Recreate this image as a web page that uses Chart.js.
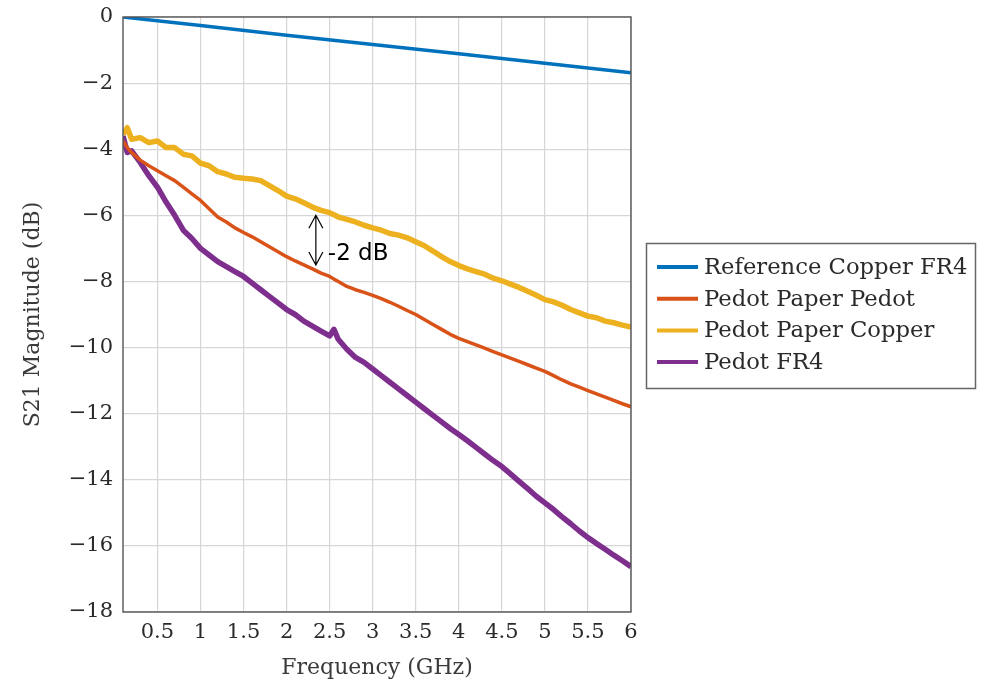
<!DOCTYPE html>
<html>
<head>
<meta charset="utf-8">
<script src="https://cdn.jsdelivr.net/npm/chart.js@4.4.1/dist/chart.umd.min.js"></script>
<style>
  html, body { margin: 0; padding: 0; background: white; }
  #wrap { width: 984px; height: 686px; }
</style>
</head>
<body>
<div id="wrap"><canvas id="myChart" width="984" height="686"></canvas></div>
<script>
// Series labels and colours
const seriesLabels = ["Reference Copper FR4", "Pedot Paper Pedot", "Pedot Paper Copper", "Pedot FR4"];
const seriesColors = ["#0072BD", "#D95319", "#EDB120", "#7E2F8E"];

// Reference copper is a straight line
const refFreq = [0.1, 1, 2, 3, 4, 5, 6];
const refDb = [0.0, -0.26, -0.55, -0.83, -1.11, -1.40, -1.69];

// Frequency (GHz) for the measured pedot curves
const freq = [0.1, 0.15, 0.2, 0.3, 0.4, 0.5, 0.6, 0.7, 0.8, 0.9, 1.0, 1.1, 1.2, 1.3, 1.4, 1.5, 1.6, 1.7, 1.8, 1.9,
  2.0, 2.1, 2.2, 2.3, 2.4, 2.5, 2.55, 2.6, 2.7, 2.8, 2.9, 3.0, 3.1, 3.2, 3.3, 3.4, 3.5, 3.6, 3.7, 3.8, 3.9,
  4.0, 4.1, 4.2, 4.3, 4.4, 4.5, 4.6, 4.7, 4.8, 4.9, 5.0, 5.1, 5.2, 5.3, 5.4, 5.5, 5.6, 5.7, 5.8, 5.9, 6.0];

const paperPedotDb = [-3.75, -3.95, -4.1, -4.33, -4.5, -4.65, -4.8, -4.95, -5.15, -5.35, -5.55, -5.8, -6.05, -6.2, -6.38, -6.52, -6.65, -6.8, -6.95, -7.1,
  -7.25, -7.38, -7.5, -7.62, -7.75, -7.85, -7.93, -8.0, -8.15, -8.25, -8.33, -8.42, -8.52, -8.63, -8.75, -8.88, -9.0, -9.15, -9.3, -9.45, -9.6,
  -9.72, -9.82, -9.92, -10.02, -10.12, -10.22, -10.32, -10.42, -10.52, -10.62, -10.72, -10.85, -10.98, -11.1, -11.2, -11.3, -11.4, -11.5, -11.6, -11.7, -11.79];

const paperCopperDb = [-3.55, -3.35, -3.7, -3.65, -3.8, -3.75, -3.95, -3.95, -4.15, -4.2, -4.42, -4.5, -4.68, -4.75, -4.85, -4.88, -4.9, -4.95, -5.1, -5.25,
  -5.42, -5.5, -5.62, -5.75, -5.85, -5.92, -5.98, -6.05, -6.12, -6.2, -6.3, -6.38, -6.45, -6.55, -6.6, -6.68, -6.8, -6.92, -7.08, -7.25, -7.4,
  -7.52, -7.62, -7.7, -7.78, -7.9, -7.98, -8.08, -8.18, -8.3, -8.42, -8.55, -8.62, -8.72, -8.85, -8.95, -9.05, -9.1, -9.2, -9.25, -9.32, -9.38];

const pedotFr4Db = [-3.6, -4.1, -4.05, -4.4, -4.8, -5.15, -5.6, -6.0, -6.45, -6.7, -7.0, -7.2, -7.4, -7.55, -7.7, -7.85, -8.05, -8.25, -8.45, -8.65,
  -8.85, -9.0, -9.2, -9.35, -9.5, -9.65, -9.45, -9.75, -10.05, -10.3, -10.45, -10.65, -10.85, -11.05, -11.25, -11.45, -11.65, -11.85, -12.05, -12.25, -12.45,
  -12.63, -12.82, -13.02, -13.22, -13.42, -13.6, -13.82, -14.05, -14.27, -14.5, -14.7, -14.9, -15.12, -15.33, -15.55, -15.75, -15.93, -16.1, -16.28, -16.45, -16.63];

// Axis ticks
const xTicks = [0.5, 1, 1.5, 2, 2.5, 3, 3.5, 4, 4.5, 5, 5.5, 6];
const yMin = -18, yMax = 0, yStep = 2;

// "-2 dB" annotation (data units)
const annotX = 2.34;
const annotTop = -6.0;
const annotBottom = -7.5;
const annotText = "-2 dB";

const toPoints = (xs, ys) => xs.map((x, i) => ({ x: x, y: ys[i] }));

const serif = "'DejaVu Serif', 'Liberation Serif', serif";

const framePlugin = {
  id: "framePlugin",
  afterDatasetsDraw(chart) {
    const ctx = chart.ctx;
    const a = chart.chartArea;
    ctx.save();
    ctx.strokeStyle = "#555";
    ctx.lineWidth = 1.4;
    ctx.strokeRect(a.left, a.top, a.right - a.left, a.bottom - a.top);
    ctx.restore();
  },
};

const annotPlugin = {
  id: "annotPlugin",
  afterDatasetsDraw(chart) {
    const ctx = chart.ctx;
    const xs = chart.scales.x;
    const ys = chart.scales.y;
    const px = xs.getPixelForValue(annotX);
    const y1 = ys.getPixelForValue(annotTop);
    const y2 = ys.getPixelForValue(annotBottom);
    ctx.save();
    ctx.strokeStyle = "#000";
    ctx.lineWidth = 1.2;
    ctx.beginPath();
    ctx.moveTo(px, y1);
    ctx.lineTo(px, y2);
    ctx.moveTo(px - 7, y1 + 13);
    ctx.lineTo(px, y1);
    ctx.lineTo(px + 7, y1 + 13);
    ctx.moveTo(px - 7, y2 - 13);
    ctx.lineTo(px, y2);
    ctx.lineTo(px + 7, y2 - 13);
    ctx.stroke();
    ctx.fillStyle = "#000";
    ctx.font = "23px 'DejaVu Sans', Arial, sans-serif";
    ctx.textBaseline = "middle";
    ctx.textAlign = "left";
    ctx.fillText(annotText, px + 12, (y1 + y2) / 2 + 14);
    ctx.restore();
  },
};

const legendPlugin = {
  id: "legendBox",
  afterDraw(chart) {
    const ctx = chart.ctx;
    ctx.save();
    ctx.fillStyle = "white";
    ctx.fillRect(646, 243, 330, 146);
    ctx.strokeStyle = "#666";
    ctx.lineWidth = 1.5;
    ctx.strokeRect(646.5, 243.5, 329, 145);
    ctx.font = "22.7px " + serif;
    ctx.textBaseline = "middle";
    ctx.textAlign = "left";
    chart.data.datasets.forEach((ds, i) => {
      const y = 267 + i * 31.7;
      ctx.strokeStyle = ds.borderColor;
      ctx.lineWidth = 4;
      ctx.beginPath();
      ctx.moveTo(657, y);
      ctx.lineTo(698, y);
      ctx.stroke();
      ctx.fillStyle = "#2a2a2a";
      ctx.fillText(ds.label, 704, y + 1);
    });
    ctx.restore();
  },
};

const data = {
  datasets: [
    { label: seriesLabels[0], data: toPoints(refFreq, refDb), borderColor: seriesColors[0], borderWidth: 3.5 },
    { label: seriesLabels[1], data: toPoints(freq, paperPedotDb), borderColor: seriesColors[1], borderWidth: 3.5 },
    { label: seriesLabels[2], data: toPoints(freq, paperCopperDb), borderColor: seriesColors[2], borderWidth: 5.5 },
    { label: seriesLabels[3], data: toPoints(freq, pedotFr4Db), borderColor: seriesColors[3], borderWidth: 5.5 },
  ],
};

const config = {
  type: "line",
  data: data,
  options: {
    responsive: false,
    animation: false,
    elements: {
      point: { radius: 0 },
      line: { tension: 0, borderJoinStyle: "round" },
    },
    layout: {
      padding: { left: 0, top: 17, right: 353, bottom: 0 },
    },
    plugins: {
      legend: { display: false },
      tooltip: { enabled: false },
    },
    scales: {
      x: {
        type: "linear",
        min: 0.1,
        max: 6,
        afterBuildTicks: (axis) => {
          axis.ticks = xTicks.map((v) => ({ value: v }));
        },
        afterFit: (axis) => {
          axis.height = 74;
          axis.paddingLeft = 0;
          axis.paddingRight = 0;
        },
        grid: { color: "#d6d6d6", lineWidth: 1.2, drawTicks: false },
        border: { display: false },
        ticks: {
          padding: 8,
          color: "#2a2a2a",
          maxRotation: 0,
          autoSkip: false,
          font: { family: serif, size: 21 },
          callback: (v) => String(v),
        },
        title: {
          display: true,
          text: "Frequency (GHz)",
          color: "#3a3a3a",
          font: { family: serif, size: 22 },
          padding: { top: 0, bottom: 5 },
        },
      },
      y: {
        min: yMin,
        max: yMax,
        afterFit: (axis) => {
          axis.width = 123;
          axis.paddingTop = 0;
          axis.paddingBottom = 0;
        },
        grid: { color: "#d6d6d6", lineWidth: 1.2, drawTicks: false },
        border: { display: false },
        ticks: {
          stepSize: yStep,
          padding: 10,
          color: "#2a2a2a",
          font: { family: serif, size: 21 },
          callback: (v) => (v === 0 ? "0" : (v < 0 ? "\u2212" : "") + Math.abs(v)),
        },
        title: {
          display: true,
          text: "S21 Magnitude (dB)",
          color: "#3a3a3a",
          font: { family: serif, size: 22 },
          padding: { top: 20, bottom: 0 },
        },
      },
    },
  },
  plugins: [framePlugin, annotPlugin, legendPlugin],
};

const myChart = new Chart(document.getElementById("myChart").getContext("2d"), config);
</script>
</body>
</html>
